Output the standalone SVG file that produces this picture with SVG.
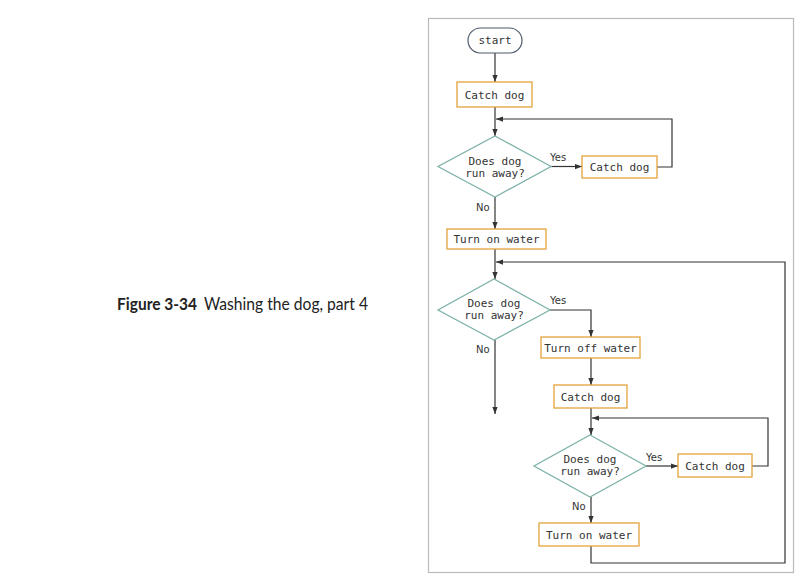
<svg xmlns="http://www.w3.org/2000/svg" width="804" height="581" viewBox="0 0 804 581">
<style>
.box{fill:#fff;stroke:#E3A33B;stroke-width:1.3}
.dia{fill:#fff;stroke:#7FB3AA;stroke-width:1.3}
.term{fill:#fff;stroke:#4d5b6b;stroke-width:1.2}
.t{font-family:"DejaVu Sans Mono","Liberation Mono",monospace;font-size:11px;fill:#333;text-anchor:middle}
.lbl{font-family:"DejaVu Sans","Liberation Sans",sans-serif;font-size:10px;fill:#333}
.c{fill:none;stroke:#333;stroke-width:1.2}
.cap{font-family:Lato,"Open Sans","Liberation Sans",sans-serif;font-size:17.5px;fill:#222}
</style>
<defs>
<marker id="ah" viewBox="0 0 8 8" refX="8" refY="4" markerWidth="7" markerHeight="7" markerUnits="userSpaceOnUse" orient="auto">
<path d="M0,1 L8,4 L0,7 z" fill="#333"/>
</marker>
</defs>
<rect width="804" height="581" fill="#fff"/>
<g id="caption">
<text class="cap" x="117" y="310" font-weight="bold" textLength="80" lengthAdjust="spacingAndGlyphs">Figure 3-34</text>
<text class="cap" x="204" y="310" textLength="164" lengthAdjust="spacingAndGlyphs">Washing the dog, part 4</text>
</g>
<rect x="428.5" y="18.5" width="365" height="554" fill="none" stroke="#bbb" stroke-width="1.2"/>
<g id="connectors">
<path class="c" d="M495,53 V82" marker-end="url(#ah)"/>
<path class="c" d="M495,107 V136" marker-end="url(#ah)"/>
<path class="c" d="M657,167 H672 V119 H496" marker-end="url(#ah)"/>
<path class="c" d="M551,166.5 H582" marker-end="url(#ah)"/>
<path class="c" d="M495,197 V229" marker-end="url(#ah)"/>
<path class="c" d="M495,249 V279" marker-end="url(#ah)"/>
<path class="c" d="M591,546 V563 H785 V262 H496" marker-end="url(#ah)"/>
<path class="c" d="M550,310 H591 V337" marker-end="url(#ah)"/>
<path class="c" d="M495,340 V414" marker-end="url(#ah)"/>
<path class="c" d="M591,358 V385" marker-end="url(#ah)"/>
<path class="c" d="M591,408 V435" marker-end="url(#ah)"/>
<path class="c" d="M752,466 H768 V418 H592" marker-end="url(#ah)"/>
<path class="c" d="M646,466 H678" marker-end="url(#ah)"/>
<path class="c" d="M591,497 V523" marker-end="url(#ah)"/>
<text class="lbl" x="550" y="161">Yes</text>
<text class="lbl" x="476" y="211">No</text>
<text class="lbl" x="550" y="304">Yes</text>
<text class="lbl" x="476" y="353">No</text>
<text class="lbl" x="646" y="461">Yes</text>
<text class="lbl" x="572" y="510">No</text>
</g>
<g id="start"><rect class="term" x="468" y="28" width="54" height="25" rx="12.5"/><text class="t" x="495" y="44">start</text></g>
<g id="catch1"><rect class="box" x="457" y="82" width="75" height="25"/><text class="t" x="494.5" y="98.5">Catch dog</text></g>
<g id="dec1"><polygon class="dia" points="495,136 551,166.5 495,197 438,166.5"/><text class="t" x="495" y="165">Does dog</text><text class="t" x="495" y="177">run away?</text></g>
<g id="catch2"><rect class="box" x="582" y="156" width="75" height="22"/><text class="t" x="619.5" y="171">Catch dog</text></g>
<g id="turnon1"><rect class="box" x="447" y="229" width="99" height="20"/><text class="t" x="496.5" y="243">Turn on water</text></g>
<g id="dec2"><polygon class="dia" points="494,279 550,310 494,340 438,310"/><text class="t" x="494" y="307">Does dog</text><text class="t" x="494" y="319">run away?</text></g>
<g id="turnoff"><rect class="box" x="541" y="337" width="99" height="21"/><text class="t" x="590.5" y="351.5">Turn off water</text></g>
<g id="catch3"><rect class="box" x="554" y="385" width="73" height="23"/><text class="t" x="590.5" y="400.5">Catch dog</text></g>
<g id="dec3"><polygon class="dia" points="590,435 646,466 590,497 534,466"/><text class="t" x="590" y="463">Does dog</text><text class="t" x="590" y="475">run away?</text></g>
<g id="catch4"><rect class="box" x="678" y="454" width="74" height="23"/><text class="t" x="715" y="469.5">Catch dog</text></g>
<g id="turnon2"><rect class="box" x="539" y="523" width="100" height="23"/><text class="t" x="589" y="538.5">Turn on water</text></g>
</svg>
